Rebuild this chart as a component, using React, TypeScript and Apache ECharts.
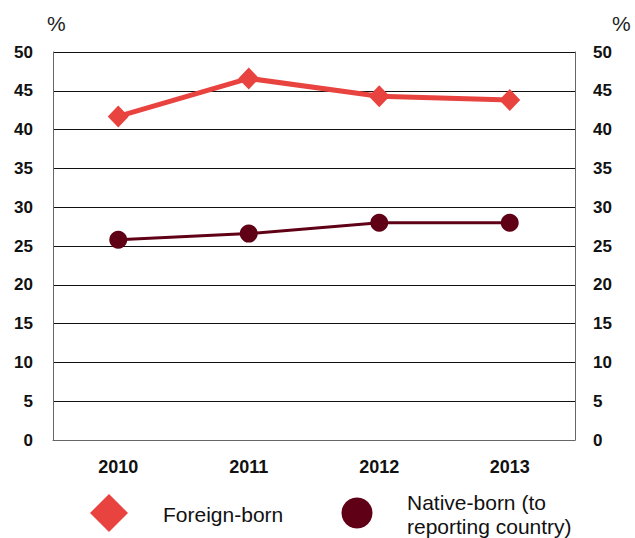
import React, { useEffect, useRef } from "react";
import * as echarts from "echarts";

const years = ["2010", "2011", "2012", "2013"];
const foreignBorn = [41.7, 46.6, 44.3, 43.8];
const nativeBorn = [25.8, 26.6, 28.0, 28.0];
const yTicks = { min: 0, max: 50, interval: 5 };
const legendLabels = ["Foreign-born", "Native-born (to\nreporting country)"];

const FONT = "'Liberation Sans', Arial, sans-serif";
const RED = "#E8433F";
const MAROON = "#600016";

export default function App() {
  const ref = useRef<HTMLDivElement>(null);
  useEffect(() => {
    if (!ref.current) return;
    const chart = echarts.init(ref.current, null, { renderer: "svg" });
    const yAxisBase = {
      type: "value",
      min: yTicks.min,
      max: yTicks.max,
      interval: yTicks.interval,
      name: "%",
      nameGap: 18,
      nameTextStyle: { fontFamily: FONT, fontSize: 21, color: "#222" },
      axisTick: { show: false },
      axisLine: { show: true, lineStyle: { color: "#666", width: 1 } },
      axisLabel: {
        fontFamily: FONT,
        fontWeight: "bold",
        fontSize: 17,
        color: "#111",
        margin: 20,
      },
    };
    chart.setOption({
      animation: false,
      backgroundColor: "#fff",
      grid: { left: 53, right: 60, top: 52, bottom: 98, containLabel: false },
      xAxis: {
        type: "category",
        data: years,
        boundaryGap: true,
        axisTick: { show: false },
        axisLine: { show: true, lineStyle: { color: "#666", width: 1 } },
        axisLabel: {
          fontFamily: FONT,
          fontWeight: "bold",
          fontSize: 18,
          color: "#111",
          margin: 18,
        },
      },
      yAxis: [
        {
          ...yAxisBase,
          position: "left",
          nameTextStyle: { ...yAxisBase.nameTextStyle, align: "left", padding: [0, 0, 0, -6] },
          splitLine: { show: true, lineStyle: { color: "#111", width: 1 } },
        },
        {
          ...yAxisBase,
          position: "right",
          nameTextStyle: { ...yAxisBase.nameTextStyle, align: "left", padding: [0, 0, 0, 37] },
          axisLabel: { ...yAxisBase.axisLabel, margin: 18 },
          splitLine: { show: false },
        },
      ],
      graphic: [
        {
          type: "polygon",
          shape: { points: [[109, 494], [128, 513], [109, 532], [90, 513]] },
          style: { fill: RED },
        },
        {
          type: "text",
          left: 163,
          top: 504,
          style: { text: legendLabels[0], font: `21px ${FONT}`, fill: "#111" },
        },
        {
          type: "circle",
          shape: { cx: 357, cy: 513, r: 15.5 },
          style: { fill: MAROON },
        },
        {
          type: "text",
          left: 407,
          top: 490,
          style: { text: legendLabels[1], font: `21px ${FONT}`, lineHeight: 24, fill: "#111" },
        },
      ],
      series: [
        {
          name: legendLabels[0],
          type: "line",
          data: foreignBorn,
          symbol: "diamond",
          symbolSize: [21, 22],
          itemStyle: { color: RED },
          lineStyle: { color: RED, width: 5 },
          z: 3,
        },
        {
          name: legendLabels[1],
          type: "line",
          data: nativeBorn,
          symbol: "circle",
          symbolSize: 18,
          itemStyle: { color: MAROON },
          lineStyle: { color: MAROON, width: 3 },
          z: 3,
        },
      ],
    });
    return () => chart.dispose();
  }, []);
  return <div ref={ref} style={{ width: 635, height: 538, position: "fixed", left: 0, top: 0 }} />;
}
